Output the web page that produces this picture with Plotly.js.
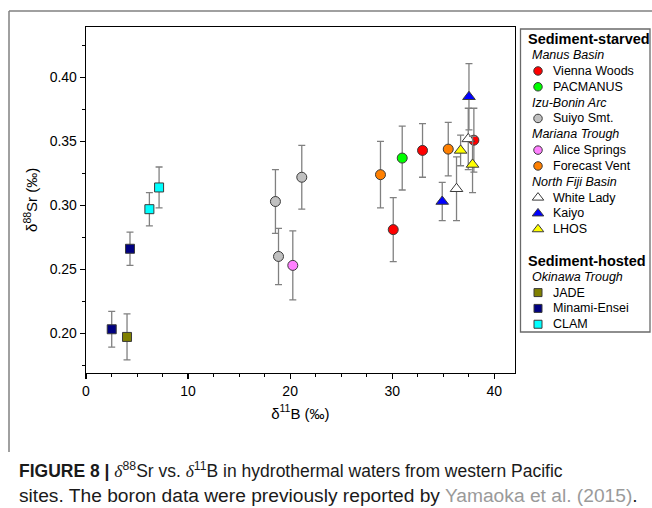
<!DOCTYPE html>
<html>
<head>
<meta charset="utf-8">
<script src="https://cdn.plot.ly/plotly-3.0.1.min.js"></script>
<style>html,body{margin:0;padding:0;background:#fff;}#chart{width:652px;height:508px;}</style>
</head>
<body>
<div id="chart"></div>
<script>
// ---- data (δ11B ‰, δ88Sr ‰, 2SD) ----
const viennaX = [30.1, 32.97, 38.0];
const viennaY = [0.281, 0.343, 0.351];
const viennaE = [0.025, 0.021, 0.025];

const pacmanusX = [30.98];
const pacmanusY = [0.337];
const pacmanusE = [0.025];

const suiyoX = [18.56, 18.86, 21.14];
const suiyoY = [0.303, 0.260, 0.322];
const suiyoE = [0.025, 0.022, 0.025];

const aliceX = [20.26];
const aliceY = [0.253];
const aliceE = [0.027];

const forecastX = [28.85, 35.49];
const forecastY = [0.324, 0.344];
const forecastE = [0.026, 0.021];

const whiteLadyX = [36.3, 37.45];
const whiteLadyY = [0.313, 0.352];
const whiteLadyE = [0.025, 0.024];

const kaiyoX = [34.9, 37.52];
const kaiyoY = [0.303, 0.385];
const kaiyoE = [0.015, 0.026];

const lhosX = [36.7, 37.87];
const lhosY = [0.343, 0.332];
const lhosE = [0.012, 0.022];

const jadeX = [4.02];
const jadeY = [0.197];
const jadeE = [0.018];

const minamiX = [2.52, 4.31];
const minamiY = [0.203, 0.266];
const minamiE = [0.014, 0.013];

const clamX = [6.21, 7.16];
const clamY = [0.297, 0.314];
const clamE = [0.013, 0.016];

const xTickVals = [0, 10, 20, 30, 40];
const yTickVals = [0.20, 0.25, 0.30, 0.35, 0.40];

// ---- styles ----
const sites = [
  {name:'Vienna Woods', x:viennaX, y:viennaY, e:viennaE, symbol:'circle', color:'#ff0000', size:10},
  {name:'PACMANUS', x:pacmanusX, y:pacmanusY, e:pacmanusE, symbol:'circle', color:'#00ff00', size:10},
  {name:'Suiyo Smt.', x:suiyoX, y:suiyoY, e:suiyoE, symbol:'circle', color:'#c0c0c0', size:10},
  {name:'Alice Springs', x:aliceX, y:aliceY, e:aliceE, symbol:'circle', color:'#ff80ff', size:10},
  {name:'Forecast Vent', x:forecastX, y:forecastY, e:forecastE, symbol:'circle', color:'#ff8000', size:10},
  {name:'White Lady', x:whiteLadyX, y:whiteLadyY, e:whiteLadyE, symbol:'triangle-up', color:'#ffffff', size:11},
  {name:'Kaiyo', x:kaiyoX, y:kaiyoY, e:kaiyoE, symbol:'triangle-up', color:'#0000ff', size:11},
  {name:'LHOS', x:lhosX, y:lhosY, e:lhosE, symbol:'triangle-up', color:'#ffff00', size:11},
  {name:'JADE', x:jadeX, y:jadeY, e:jadeE, symbol:'square', color:'#808000', size:9},
  {name:'Minami-Ensei', x:minamiX, y:minamiY, e:minamiE, symbol:'square', color:'#000080', size:9},
  {name:'CLAM', x:clamX, y:clamY, e:clamE, symbol:'square', color:'#00ffff', size:9}
];

const legendGroups = [
  {title:'Sediment-starved', regions:[
    {name:'Manus Basin', sites:['Vienna Woods','PACMANUS']},
    {name:'Izu-Bonin Arc', sites:['Suiyo Smt.']},
    {name:'Mariana Trough', sites:['Alice Springs','Forecast Vent']},
    {name:'North Fiji Basin', sites:['White Lady','Kaiyo','LHOS']}
  ]},
  {title:'Sediment-hosted', regions:[
    {name:'Okinawa Trough', sites:['JADE','Minami-Ensei','CLAM']}
  ]}
];

const W = 652, H = 508;
const px = v => v / W;
const py = v => 1 - v / H;
const FONT = 'Liberation Sans, Arial, Helvetica, sans-serif';
const SERIF = 'Liberation Serif, Times New Roman, serif';

const traces = sites.map(s => ({
  type:'scatter', mode:'markers', name:s.name, x:s.x, y:s.y,
  xaxis:'x', yaxis:'y', showlegend:false,
  error_y:{type:'data', array:s.e, visible:true, color:'#808080', thickness:1.3, width:3.5},
  marker:{symbol:s.symbol, size:s.size, color:s.color, line:{color:'#3a3a3a', width:1}}
}));

// ---- custom legend ----
const annotations = [];
let row = 0;
legendGroups.forEach((g, gi) => {
  if (gi > 0) row += 1;
  annotations.push({xref:'x2', yref:'y2', x:6, y:row, text:'<b>'+g.title+'</b>', showarrow:false,
    xanchor:'left', yanchor:'middle', font:{family:FONT, size:14.5, color:'#000'}});
  row += 1;
  g.regions.forEach(r => {
    annotations.push({xref:'x2', yref:'y2', x:10, y:row, text:'<i>'+r.name+'</i>', showarrow:false,
      xanchor:'left', yanchor:'middle', font:{family:FONT, size:12.5, color:'#000'}});
    row += 1;
    r.sites.forEach(n => {
      const s = sites.find(t => t.name === n);
      traces.push({type:'scatter', mode:'markers', x:[18], y:[row], xaxis:'x2', yaxis:'y2',
        showlegend:false, hoverinfo:'skip',
        marker:{symbol:s.symbol, size:s.symbol==='triangle-up'?10:(s.symbol==='square'?8:8.5), color:s.color,
          line:{color:'#3a3a3a', width:1}}});
      annotations.push({xref:'x2', yref:'y2', x:31, y:row, text:n, showarrow:false,
        xanchor:'left', yanchor:'middle', font:{family:FONT, size:12.5, color:'#000'}});
      row += 1;
    });
  });
});

// ---- caption ----
const d = '<span style="font-family:' + SERIF + '"><i>δ</i></span>';
annotations.push({xref:'paper', yref:'paper', x:px(17), y:py(470), xanchor:'left', yanchor:'middle', showarrow:false,
  text:'<b>FIGURE 8 |</b> ' + d + '<sup>88</sup>Sr vs. ' + d + '<sup>11</sup>B in hydrothermal waters from western Pacific',
  font:{family:FONT, size:17.5, color:'#1a1a1a'}});
annotations.push({xref:'paper', yref:'paper', x:px(17), y:py(495), xanchor:'left', yanchor:'middle', showarrow:false,
  text:'sites. The boron data were previously reported by <span style="color:#9a9a9a">Yamaoka et al. (2015)</span>.',
  font:{family:FONT, size:19.2, color:'#1a1a1a'}});

const legendTop = 29, legendBottom = 332, rowPitch = 15.83, row0 = 39.3;

const layout = {
  width:W, height:H,
  margin:{l:0, r:0, t:0, b:0},
  paper_bgcolor:'#ffffff', plot_bgcolor:'#ffffff',
  showlegend:false,
  font:{family:FONT, color:'#000'},
  xaxis:{
    domain:[px(86), px(514.7)], range:[0, 42], tickvals:xTickVals,
    showline:true, mirror:true, linecolor:'#000', linewidth:1.3,
    ticks:'outside', ticklen:5, tickwidth:1.2, tickcolor:'#000',
    minor:{dtick:2.5, tick0:0, ticks:'outside', ticklen:3, tickwidth:1, tickcolor:'#000'},
    showgrid:false, zeroline:false,
    tickfont:{family:FONT, size:14, color:'#000'},
    title:{text:'δ<sup>11</sup>B (‰)', font:{family:FONT, size:15, color:'#000'}, standoff:10},
    anchor:'y'
  },
  yaxis:{
    domain:[py(372.7), py(27)], range:[0.169, 0.4396], tickvals:yTickVals, tickformat:'.2f',
    showline:true, mirror:true, linecolor:'#000', linewidth:1.3,
    ticks:'outside', ticklen:5, tickwidth:1.2, tickcolor:'#000',
    minor:{dtick:0.025, tick0:0.2, ticks:'outside', ticklen:3, tickwidth:1, tickcolor:'#000'},
    showgrid:false, zeroline:false,
    tickfont:{family:FONT, size:14, color:'#000'},
    title:{text:'δ<sup>88</sup>Sr (‰)', font:{family:FONT, size:15, color:'#000'}, standoff:8},
    anchor:'x'
  },
  xaxis2:{domain:[px(520), px(650)], range:[0, 130], visible:false, fixedrange:true, anchor:'y2'},
  yaxis2:{domain:[py(legendBottom), py(legendTop)],
    range:[(legendBottom-row0)/rowPitch, (legendTop-row0)/rowPitch],
    visible:false, fixedrange:true, anchor:'x2'},
  shapes:[
    {type:'line', xref:'paper', yref:'paper', x0:px(9), x1:px(652), y0:py(11), y1:py(11), line:{color:'#808080', width:1.5}},
    {type:'line', xref:'paper', yref:'paper', x0:px(9), x1:px(9), y0:py(11), y1:py(452), line:{color:'#808080', width:1.5}},
    {type:'rect', xref:'paper', yref:'paper', x0:px(520.5), x1:px(650), y0:py(legendTop), y1:py(legendBottom), line:{color:'#6a6a6a', width:1.3}, fillcolor:'rgba(0,0,0,0)'}
  ],
  annotations:annotations
};

Plotly.newPlot('chart', traces, layout, {displayModeBar:false, staticPlot:true});
</script>
</body>
</html>
